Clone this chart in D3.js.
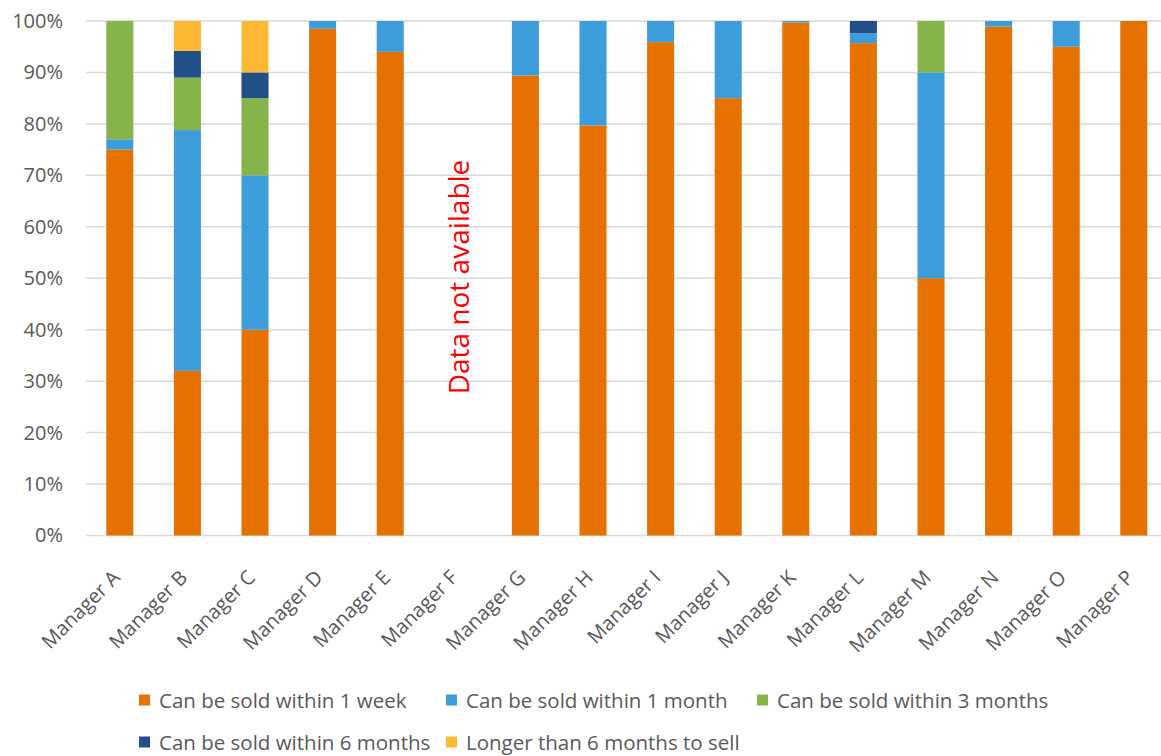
<!DOCTYPE html>
<html>
<head>
<meta charset="utf-8">
<script src="https://cdn.jsdelivr.net/npm/d3@7"></script>
<style>
  html, body { margin: 0; padding: 0; background: #fff; }
  svg { display: block; }
  text { font-family: "Open Sans", "Liberation Sans", sans-serif; }
</style>
</head>
<body>
<svg id="chart" width="1161" height="756"></svg>
<script>
// Share of each manager's holdings by time needed to sell (percent)
const managers = ["Manager A", "Manager B", "Manager C", "Manager D", "Manager E", "Manager F",
  "Manager G", "Manager H", "Manager I", "Manager J", "Manager K", "Manager L",
  "Manager M", "Manager N", "Manager O", "Manager P"];

const seriesNames = ["Can be sold within 1 week", "Can be sold within 1 month",
  "Can be sold within 3 months", "Can be sold within 6 months", "Longer than 6 months to sell"];
const seriesColors = ["#E57200", "#3D9DDA", "#86B34A", "#214F87", "#FDB833"];

const within1Week   = [75, 32, 40, 98.5, 94, null, 89.4, 79.7, 95.9, 85, 99.7, 95.7, 50, 98.9, 95, 100];
const within1Month  = [2, 46.8, 30, 1.5, 6, null, 10.6, 20.3, 4.1, 15, 0.3, 1.9, 40, 1.1, 5, 0];
const within3Months = [23, 10.2, 15, 0, 0, null, 0, 0, 0, 0, 0, 0, 10, 0, 0, 0];
const within6Months = [0, 5.2, 5, 0, 0, null, 0, 0, 0, 0, 0, 2.4, 0, 0, 0, 0];
const longerThan6   = [0, 5.8, 10, 0, 0, null, 0, 0, 0, 0, 0, 0, 0, 0, 0, 0];

const yTicks = [0, 10, 20, 30, 40, 50, 60, 70, 80, 90, 100];
const missingNote = "Data not available";
const missingManager = "Manager F";

const seriesValues = [within1Week, within1Month, within3Months, within6Months, longerThan6];
const keys = ["w1", "m1", "m3", "m6", "long"];
const rows = managers.map((m, i) => {
  const r = { manager: m };
  keys.forEach((k, j) => { r[k] = seriesValues[j][i] == null ? 0 : seriesValues[j][i]; });
  return r;
});

const svg = d3.select("#chart");
const plotLeft = 86, plotRight = 1167.6, plotTop = 21, plotBottom = 535.5;

const x = d3.scaleBand().domain(managers).range([plotLeft, plotRight])
  .paddingInner(0.6).paddingOuter(0.3);
const y = d3.scaleLinear().domain([0, 100]).range([plotBottom, plotTop]);

// gridlines
svg.append("g").selectAll("line").data(yTicks).join("line")
  .attr("x1", plotLeft).attr("x2", 1161)
  .attr("y1", d => y(d)).attr("y2", d => y(d))
  .attr("stroke", "#D9D9D9").attr("stroke-width", 1.5);

// y axis labels
const yAxis = d3.axisLeft(y).tickValues(yTicks).tickFormat(d => d + "%").tickSize(0).tickPadding(0);
const yg = svg.append("g").attr("transform", `translate(63,0)`).call(yAxis);
yg.select(".domain").remove();
yg.selectAll("text").attr("fill", "#595959").style("font-size", "20px")
  .style("font-family", "'Open Sans', sans-serif");

// stacked bars
const stack = d3.stack().keys(keys);
const layers = stack(rows);
svg.append("g").selectAll("g").data(layers).join("g")
  .attr("fill", (d, i) => seriesColors[i])
  .selectAll("rect").data(d => d).join("rect")
  .attr("x", d => x(d.data.manager))
  .attr("width", x.bandwidth())
  .attr("y", d => y(d[1]))
  .attr("height", d => Math.max(0, y(d[0]) - y(d[1])));

// x axis labels (rotated)
const xAxis = d3.axisBottom(x).tickSize(0).tickPadding(0);
const xg = svg.append("g").attr("transform", `translate(0,${plotBottom})`).call(xAxis);
xg.select(".domain").remove();
xg.selectAll("text")
  .attr("fill", "#595959").style("font-size", "20px")
  .style("font-family", "'Open Sans', sans-serif")
  .attr("text-anchor", "end")
  .attr("dy", null).attr("y", 0)
  .attr("transform", "translate(-4,38) rotate(-45)")
  .attr("dominant-baseline", "central");

// note for the manager without data
svg.append("text")
  .attr("transform", `translate(${x(missingManager) + x.bandwidth() / 2},${277}) rotate(-90)`)
  .attr("text-anchor", "middle").attr("dominant-baseline", "central")
  .attr("fill", "#FF0000").style("font-size", "28px")
  .text(missingNote);

// legend
const legendPos = [[139, 700], [446, 700], [757, 700], [139, 742], [446, 742]];
const lg = svg.append("g").selectAll("g").data(seriesNames).join("g")
  .attr("transform", (d, i) => `translate(${legendPos[i][0]},${legendPos[i][1]})`);
lg.append("rect").attr("x", 0).attr("y", -5.5).attr("width", 11).attr("height", 11)
  .attr("fill", (d, i) => seriesColors[i]);
lg.append("text").attr("x", 20).attr("y", 0).attr("dominant-baseline", "central")
  .attr("fill", "#595959").style("font-size", "20.5px").text(d => d);
</script>
</body>
</html>
